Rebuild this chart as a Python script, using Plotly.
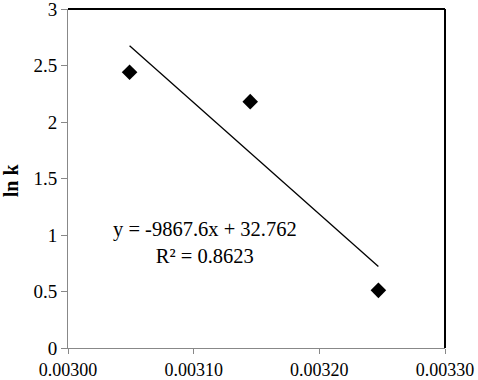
import plotly.graph_objects as go

# Data
inv_T = [0.003049, 0.003145, 0.003247]
ln_k = [2.44, 2.18, 0.51]
slope = -9867.6
intercept = 32.762
r2 = 0.8623

x_ticks = [0.00300, 0.00310, 0.00320, 0.00330]
x_labels = ["0.00300", "0.00310", "0.00320", "0.00330"]
y_ticks = [0, 0.5, 1, 1.5, 2, 2.5, 3]
y_labels = ["0", "0.5", "1", "1.5", "2", "2.5", "3"]
y_title = "ln k"

fit_x = [min(inv_T), max(inv_T)]
fit_y = [slope * v + intercept for v in fit_x]

font = "Liberation Serif, Times New Roman, serif"

fig = go.Figure()
fig.add_trace(go.Scatter(x=fit_x, y=fit_y, mode="lines",
                         line=dict(color="black", width=1.3), showlegend=False))
fig.add_trace(go.Scatter(x=inv_T, y=ln_k, mode="markers",
                         marker=dict(symbol="diamond", size=12, color="black"),
                         showlegend=False))

fig.add_annotation(x=0.003109, y=0.93, xref="x", yref="y",
                   text=f"y = {slope}x + {intercept}<br>R² = {r2}",
                   showarrow=False, font=dict(family=font, size=20.5, color="black"),
                   align="center")

fig.add_annotation(x=-0.152, y=0.494, xref="paper", yref="paper",
                   text=f"<b>{y_title}</b>", textangle=-90, showarrow=False,
                   xanchor="center", yanchor="middle",
                   font=dict(family=font, size=20, color="black"))

fig.add_shape(type="line", xref="paper", yref="paper", x0=0, x1=1, y0=1, y1=1,
              line=dict(color="black", width=2))
fig.add_shape(type="line", xref="paper", yref="paper", x0=1, x1=1, y0=0, y1=1,
              line=dict(color="black", width=2))

fig.update_xaxes(range=[0.0030, 0.0033], tickvals=x_ticks, ticktext=x_labels,
                 showgrid=False, zeroline=False, showline=True, linecolor="#888888",
                 linewidth=1, ticks="outside", ticklen=5, tickcolor="#888888",
                 automargin=False, ticklabeloverflow="allow",
                 tickfont=dict(family=font, size=18, color="black"))
fig.update_yaxes(range=[0, 3], tickvals=y_ticks, ticktext=y_labels, showgrid=False,
                 zeroline=False, showline=True, linecolor="#888888", linewidth=1,
                 ticks="outside", ticklen=6, tickcolor="#888888",
                 automargin=False, ticklabeloverflow="allow",
                 tickfont=dict(family=font, size=19, color="black"))

fig.update_layout(width=478, height=380, margin=dict(l=68, r=33, t=9, b=32),
                  plot_bgcolor="white", paper_bgcolor="white")

fig.write_html("out.html", config={"displayModeBar": False},
               post_script="document.body.style.margin='0';")
